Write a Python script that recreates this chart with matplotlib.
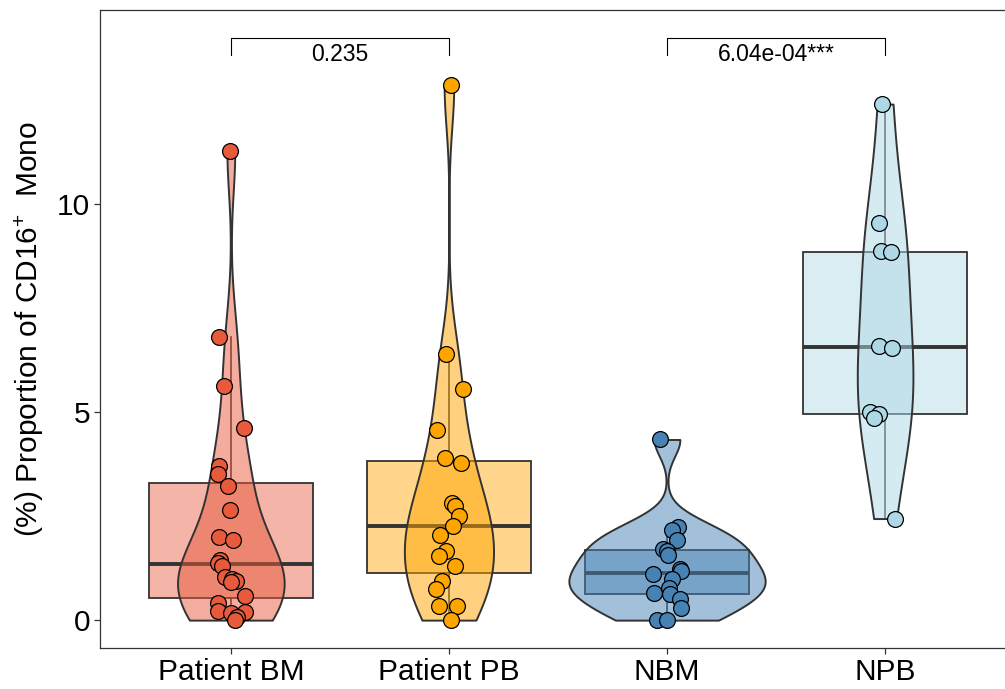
import numpy as np
import matplotlib
matplotlib.use("Agg")
import matplotlib.pyplot as plt
from matplotlib.colors import to_rgba

plt.rcParams['font.family'] = ['Liberation Sans', 'DejaVu Sans']
plt.rcParams['mathtext.fontset'] = 'custom'
plt.rcParams['mathtext.rm'] = 'Liberation Sans'
plt.rcParams['mathtext.default'] = 'regular'

groups = ['Patient BM', 'Patient PB', 'NBM', 'NPB']
colors = ['#E85A3C', '#FFA500', '#4682B4', '#ADD8E6']

bm = [11.28, 6.80, 5.63, 4.61, 3.70, 3.51, 3.23, 2.64, 2.00, 1.92, 1.44, 1.38,
      1.30, 1.04, 1.00, 0.95, 0.92, 0.58, 0.42, 0.22, 0.20, 0.16, 0.08, 0.0]
pb = [12.86, 6.40, 5.56, 4.57, 3.89, 3.77, 2.82, 2.75, 2.51, 2.26, 2.04, 1.66,
      1.54, 1.31, 0.94, 0.74, 0.35, 0.35, 0.0]
nbm = [4.34, 2.23, 2.16, 1.92, 1.70, 1.66, 1.56, 1.22, 1.18, 1.10, 0.98, 0.78,
       0.66, 0.62, 0.50, 0.30, 0.0, 0.0]
npb = [12.40, 9.54, 8.86, 8.84, 6.59, 6.55, 4.99, 4.95, 4.85, 2.44]

# jitter offsets (category units)
bm_jit = [-0.005, -0.055, -0.03, 0.06, -0.055, -0.06, -0.015, -0.005, -0.055, 0.01,
          -0.05, -0.06, -0.04, -0.025, 0.005, 0.025, 0.0, 0.065, -0.06, -0.06,
          0.065, 0.0, 0.03, 0.02]
pb_jit = [0.01, -0.015, 0.065, -0.055, -0.02, 0.055, 0.015, 0.03, 0.045, 0.02,
          -0.04, -0.015, -0.045, 0.03, -0.03, -0.06, -0.045, 0.035, 0.01]
nbm_jit = [-0.03, 0.05, 0.025, 0.045, -0.02, 0.0, 0.005, 0.06, 0.065, -0.065,
           0.025, 0.01, -0.06, 0.015, 0.06, 0.065, -0.045, 0.0]
npb_jit = [-0.015, -0.03, -0.02, 0.025, -0.03, 0.03, -0.07, -0.03, -0.05, 0.045]

comparisons = [(1, 2, '0.235'), (3, 4, '6.04e-04***')]

data = [bm, pb, nbm, npb]
jits = [bm_jit, pb_jit, nbm_jit, npb_jit]
pos = np.arange(1, len(groups) + 1)


def kde(vals, n=512):
    v = np.asarray(vals, float)
    q75, q25 = np.percentile(v, [75, 25])
    bw = 0.9 * min(v.std(ddof=1), (q75 - q25) / 1.34) * len(v) ** -0.2
    grid = np.linspace(v.min(), v.max(), n)
    d = np.exp(-0.5 * ((grid[:, None] - v[None, :]) / bw) ** 2).sum(1)
    d /= len(v) * bw * np.sqrt(2 * np.pi)
    return grid, d


fig = plt.figure(figsize=(10.05, 6.89), dpi=100)
ax = fig.add_axes([0.0995, 0.0595, 0.9114, 0.926])

edge = '#333333'
bp = ax.boxplot(data, positions=pos, widths=0.75, patch_artist=True,
                showfliers=False, showcaps=False, whis=1.5, zorder=1)
for patch, c in zip(bp['boxes'], colors):
    patch.set_facecolor(to_rgba(c, 0.45))
    patch.set_edgecolor(edge)
    patch.set_linewidth(1.3)
for w in bp['whiskers']:
    w.set_color(edge)
    w.set_linewidth(1.2)
for m in bp['medians']:
    m.set_color(edge)
    m.set_linewidth(2.8)

kdes = [kde(v) for v in data]
dmax = max(d.max() for _, d in kdes)
for p, (g, d), c in zip(pos, kdes, colors):
    hw = 0.45 * d / dmax
    ax.fill_betweenx(g, p - hw, p + hw, facecolor=to_rgba(c, 0.5),
                     edgecolor=edge, linewidth=1.4, zorder=2)

for p, v, j, c in zip(pos, data, jits, colors):
    ax.scatter(p + np.asarray(j), v, s=130, facecolor=c, edgecolor='black',
               linewidth=0.9, zorder=3, clip_on=False)

for a, b, lab in comparisons:
    ax.plot([a, a, b, b], [13.58, 13.99, 13.99, 13.58], color='black', lw=0.8)
    ax.text((a + b) / 2, 13.58, lab, ha='center', va='center', fontsize=16.5)

ax.set_xlim(0.4, 4.6)
ax.set_ylim(-0.67, 14.66)
ax.set_xticks(pos)
ax.set_xticklabels(groups, fontsize=21.5)
ax.set_yticks([0, 5, 10])
ax.set_yticklabels(['0', '5', '10'], fontsize=21.5)
ax.set_ylabel(r'(%) Proportion of CD16$^{+}$  Mono', fontsize=21.5, labelpad=8)
ax.tick_params(length=4, width=0.9, color='#333333', pad=3)
for s in ax.spines.values():
    s.set_color('#333333')
    s.set_linewidth(0.9)

fig.savefig('out.png', dpi=100)
